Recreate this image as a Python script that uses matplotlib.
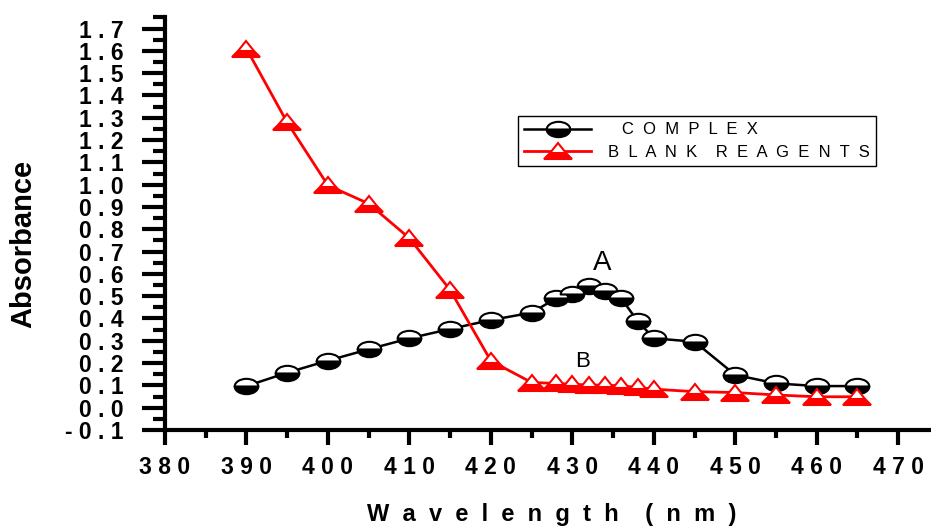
import numpy as np
import matplotlib
matplotlib.use("Agg")
import matplotlib.pyplot as plt
from matplotlib.markers import MarkerStyle
from matplotlib.transforms import Affine2D

plt.rcParams['font.family'] = ['Liberation Sans', 'DejaVu Sans']

# wavelengths (nm)
wl = [390, 395, 400, 405, 410, 415, 420, 425, 428, 430, 432, 434, 436, 438, 440, 445, 450, 455, 460, 465]
# A : complex
complex_abs = [0.097, 0.157, 0.211, 0.262, 0.311, 0.353, 0.393, 0.426, 0.49, 0.51, 0.547, 0.525, 0.49, 0.389, 0.311, 0.296, 0.147, 0.109, 0.097, 0.097]
# B : blank reagents
blank_abs = [1.61, 1.279, 0.997, 0.915, 0.76, 0.528, 0.21, 0.113, 0.109, 0.105, 0.102, 0.101, 0.098, 0.091, 0.083, 0.072, 0.068, 0.057, 0.049, 0.049]

xticks = np.arange(380, 471, 10)
yticks = np.round(np.arange(-0.1, 1.71, 0.1), 1)

def spaced(s):
    return " ".join(s)

fig = plt.figure(figsize=(9.31, 5.27), dpi=100)
ax = fig.add_axes([165/931, 97/527, 765/931, 413/527])

# half filled ellipse / flat triangle like Origin
ell = MarkerStyle('o', fillstyle='bottom', transform=Affine2D().scale(1, 0.65))
tri = MarkerStyle('^', fillstyle='bottom', transform=Affine2D().scale(1, 0.55))

ax.plot(wl, complex_abs, color='black', lw=1.8, marker=ell, ms=17,
        mfc='black', mfcalt='white', mec='black', mew=1.5,
        label="   " + "  ".join("COMPLEX"))
ax.plot(wl, blank_abs, color='red', lw=2.0, marker=tri, ms=20,
        mfc='red', mfcalt='white', mec='red', mew=1.5,
        label="  ".join("BLANK") + "    " + "  ".join("REAGENTS"))

ax.text(433.7, 0.647, "A", fontsize=20, ha='center', va='center')
ax.text(431.2, 0.206, "B", fontsize=16, ha='center', va='center')

ax.set_xlim(380, 473.9)
ax.set_ylim(-0.1, 1.752)

ax.set_xticks(xticks)
ax.set_xticklabels([spaced(str(v)) for v in xticks])
ax.set_xticks(np.arange(385, 470, 10), minor=True)
ax.set_yticks(yticks)
ax.set_yticklabels([spaced("%.1f" % v) for v in yticks])
ax.set_yticks(np.round(np.arange(-0.05, 1.76, 0.1), 2), minor=True)

for side in ['top', 'right']:
    ax.spines[side].set_visible(False)
for side in ['left', 'bottom']:
    ax.spines[side].set_linewidth(3)

ax.tick_params(axis='x', which='major', direction='out', length=11, width=3, pad=7.5, labelsize=16.5)
ax.tick_params(axis='x', which='minor', direction='out', length=6, width=3)
ax.tick_params(axis='y', which='major', direction='out', length=16.5, width=3, pad=13.5, labelsize=16.5)
ax.tick_params(axis='y', which='minor', direction='out', length=8.5, width=3)
for lab in ax.get_xticklabels() + ax.get_yticklabels():
    lab.set_fontweight('bold')

fig.text(552/931, 1 - 521/527, "  ".join("Wavelength") + "    " + "  ".join("(nm)"),
         fontsize=17, fontweight='bold', ha='center', va='baseline')
fig.text(23/931, 1 - 244/527, "Absorbance", fontsize=21, fontweight='bold',
         rotation=90, ha='center', va='center')

leg = ax.legend(loc='upper left', bbox_to_anchor=(518/931, 1 - 116/527),
                bbox_transform=fig.transFigure, fontsize=12, numpoints=1,
                handlelength=4.0, handletextpad=1.0, borderpad=0.38,
                labelspacing=0.45, borderaxespad=0, fancybox=False,
                framealpha=1, edgecolor='black')
leg.get_frame().set_linewidth(1.0)

fig.savefig("out.png", dpi=100)
